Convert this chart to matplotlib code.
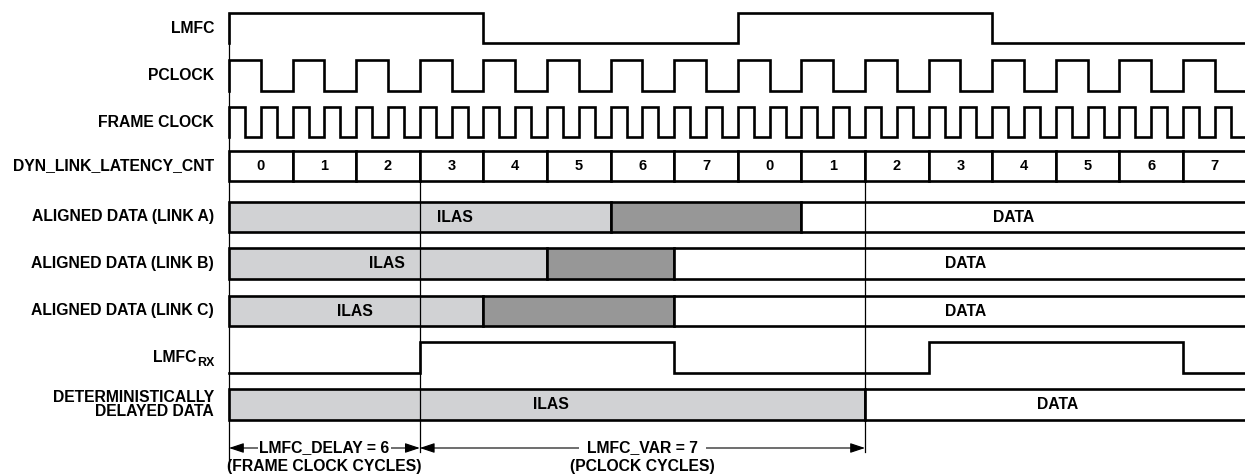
import matplotlib
matplotlib.use('Agg')
import matplotlib.pyplot as plt
from matplotlib.patches import Rectangle

plt.rcParams['font.family'] = ['Liberation Sans', 'DejaVu Sans']
plt.rcParams['font.weight'] = 'bold'

# ---------------- data ----------------
signal_labels = ['LMFC', 'PCLOCK', 'FRAME CLOCK', 'DYN_LINK_LATENCY_CNT',
                 'ALIGNED DATA (LINK A)', 'ALIGNED DATA (LINK B)',
                 'ALIGNED DATA (LINK C)', None,
                 'DETERMINISTICALLY\nDELAYED DATA']
rx_label_main, rx_label_sub = 'LMFC', 'RX'

counter_values = [0, 1, 2, 3, 4, 5, 6, 7, 0, 1, 2, 3, 4, 5, 6, 7]
n_pclock_cycles = 16
frame_clocks_per_pclock = 2

lmfc_edges = [0, 4, 8, 12, 16]
lmfc_levels = [1, 0, 1, 0]
lmfc_rx_edges = [0, 3, 7, 11, 15, 16]
lmfc_rx_levels = [0, 1, 0, 1, 0]

link_a_bounds = [0, 6, 9, 16]
link_b_bounds = [0, 5, 7, 16]
link_c_bounds = [0, 4, 7, 16]
delayed_bounds = [0, 10, 16]
link_kinds = ['ilas', 'ilas_end', 'data']
delayed_kinds = ['ilas', 'data']

link_a_text = [('ILAS', 3.56), ('DATA', 12.34)]
link_b_text = [('ILAS', 2.49), ('DATA', 11.58)]
link_c_text = [('ILAS', 1.98), ('DATA', 11.58)]
delayed_text = [('ILAS', 5.06), ('DATA', 13.03)]

lmfc_delay = 6   # frame clock cycles
lmfc_var = 7     # pclock cycles

# ---------------- layout ----------------
W, H = 1245, 474
origin_px, px_per_unit = 229, 63.6
rows = {'LMFC': (13, 43), 'PCLOCK': (60, 90.5), 'FRAME': (107, 137),
        'CNT': (151, 181), 'A': (202, 232), 'B': (248, 279),
        'C': (296, 326), 'RX': (342, 373), 'DET': (389, 420)}
row_order = ['LMFC', 'PCLOCK', 'FRAME', 'CNT', 'A', 'B', 'C', 'RX', 'DET']
fill = {'ilas': '#D1D2D4', 'ilas_end': '#979797', 'data': 'white'}
LW = 1.9
FS = 11.3

fig = plt.figure(figsize=(W / 100, H / 100), dpi=100)
ax = fig.add_axes([0, 0, 1, 1])
ax.set_xlim(-origin_px / px_per_unit, (W - origin_px) / px_per_unit)
ax.set_ylim(H, 0)
ax.axis('off')


def step_xy(edges, levels, lo, hi):
    xs, ys = [], []
    if levels[0]:
        xs.append(edges[0]); ys.append(lo)
    for i, lev in enumerate(levels):
        y = hi if lev else lo
        xs += [edges[i], edges[i + 1]]
        ys += [y, y]
    return xs, ys


def draw_signal(edges, levels, key):
    hi, lo = rows[key]
    xs, ys = step_xy(edges, levels, lo, hi)
    ax.plot(xs, ys, color='black', lw=LW, solid_joinstyle='miter',
            solid_capstyle='projecting', zorder=3)


# guide lines
ax.plot([0, 0], [rows['LMFC'][0], 467], color='black', lw=0.9, zorder=1)
delay_end = lmfc_delay / frame_clocks_per_pclock
var_end = delay_end + lmfc_var
for xg in (delay_end, var_end):
    ax.plot([xg, xg], [rows['CNT'][1], 452], color='black', lw=0.9, zorder=3)

# LMFC
draw_signal(lmfc_edges, lmfc_levels, 'LMFC')
# PCLOCK
pc_edges = [k / 2 for k in range(2 * n_pclock_cycles + 1)]
pc_levels = [1 - (k % 2) for k in range(2 * n_pclock_cycles)]
draw_signal(pc_edges, pc_levels, 'PCLOCK')
# FRAME CLOCK
nf = n_pclock_cycles * frame_clocks_per_pclock
fc_edges = [k / (2 * frame_clocks_per_pclock) for k in range(2 * nf + 1)]
fc_levels = [1 - (k % 2) for k in range(2 * nf)]
draw_signal(fc_edges, fc_levels, 'FRAME')
# LMFC_RX
draw_signal(lmfc_rx_edges, lmfc_rx_levels, 'RX')

# counter
top, bot = rows['CNT']
for k, v in enumerate(counter_values):
    ax.add_patch(Rectangle((k, top), 1, bot - top, facecolor='white',
                           edgecolor='black', lw=LW, zorder=2))
    ax.text(k + 0.5, (top + bot) / 2, str(v), ha='center', va='center',
            fontsize=10.5, fontweight='bold', zorder=4)


def draw_bus(bounds, kinds, texts, key):
    t, b = rows[key]
    for i, kind in enumerate(kinds):
        x0, x1 = bounds[i], bounds[i + 1]
        if i == len(kinds) - 1:
            x1 = x1 + 1
        ax.add_patch(Rectangle((x0, t), x1 - x0, b - t, facecolor=fill[kind],
                               edgecolor='black', lw=LW, zorder=2))
    for s, xt in texts:
        ax.text(xt, (t + b) / 2, s, ha='center', va='center', fontsize=FS,
                fontweight='bold', zorder=4)


draw_bus(link_a_bounds, link_kinds, link_a_text, 'A')
draw_bus(link_b_bounds, link_kinds, link_b_text, 'B')
draw_bus(link_c_bounds, link_kinds, link_c_text, 'C')
draw_bus(delayed_bounds, delayed_kinds, delayed_text, 'DET')

# labels
label_x = (214 - origin_px) / px_per_unit
for lab, key in zip(signal_labels, row_order):
    if lab is None:
        continue
    t, b = rows[key]
    ax.text(label_x, (t + b) / 2, lab, ha='right', va='center', fontsize=FS,
            fontweight='bold', linespacing=0.95, multialignment='right')

# LMFC_RX label with subscript
renderer = fig.canvas.get_renderer()
sub = ax.text(label_x, 365.5, rx_label_sub, ha='right', va='baseline',
              fontsize=9, fontweight='bold')
bb = sub.get_window_extent(renderer)
x_left = ax.transData.inverted().transform((bb.x0, bb.y0))[0]
ax.text(x_left, 362, rx_label_main, ha='right', va='baseline', fontsize=FS,
        fontweight='bold')

# arrows
arrow_y = 448
astyle = '<|-|>,head_length=0.6,head_width=0.2'
for xa, xb, l1, l2, pad in [(0, delay_end, f'LMFC_DELAY = {lmfc_delay}',
                             '(FRAME CLOCK CYCLES)', 1.0),
                            (delay_end, var_end, f'LMFC_VAR = {lmfc_var}',
                             '(PCLOCK CYCLES)', 6.0)]:
    ax.annotate('', xy=(xa, arrow_y), xytext=(xb, arrow_y),
                arrowprops=dict(arrowstyle=astyle, color='black', lw=0.8,
                                mutation_scale=15, shrinkA=0, shrinkB=0),
                zorder=2)
    xm = (xa + xb) / 2
    ax.text(xm, arrow_y, l1, ha='center', va='center', fontsize=FS,
            fontweight='bold', zorder=5,
            bbox=dict(facecolor='white', edgecolor='none', pad=pad))
    ax.text(xm, 466, l2, ha='center', va='center', fontsize=FS,
            fontweight='bold', zorder=5)

fig.savefig('out.png', dpi=100)
